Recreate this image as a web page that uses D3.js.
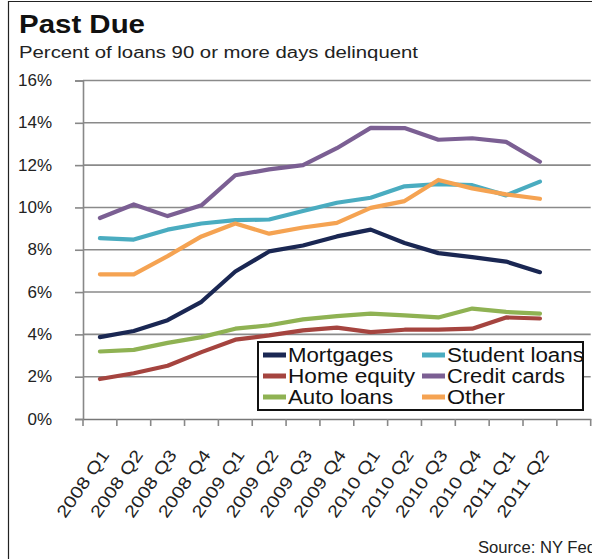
<!DOCTYPE html>
<html><head><meta charset="utf-8">
<script src="https://cdn.jsdelivr.net/npm/d3@7"></script>
<style>body{margin:0;background:#fff}svg{display:block}</style>
</head><body>
<svg id="c" width="592" height="559"></svg>
<script>
const quarters = ["2008 Q1","2008 Q2","2008 Q3","2008 Q4","2009 Q1","2009 Q2","2009 Q3","2009 Q4","2010 Q1","2010 Q2","2010 Q3","2010 Q4","2011 Q1","2011 Q2",""];
const mortgages    = [3.87,4.16,4.67,5.54,6.97,7.92,8.20,8.63,8.95,8.32,7.84,7.65,7.44,6.94];
const homeEquity   = [1.89,2.16,2.52,3.16,3.75,3.95,4.19,4.32,4.11,4.22,4.22,4.27,4.80,4.75];
const autoLoans    = [3.19,3.27,3.60,3.87,4.27,4.43,4.71,4.86,4.98,4.90,4.80,5.22,5.06,4.98];
const studentLoans = [8.55,8.48,8.95,9.24,9.40,9.43,9.83,10.22,10.46,11.00,11.10,11.05,10.57,11.22];
const creditCards  = [9.50,10.14,9.59,10.10,11.52,11.80,12.00,12.80,13.76,13.75,13.20,13.27,13.10,12.16];
const other        = [6.84,6.84,7.70,8.63,9.24,8.76,9.05,9.27,9.98,10.30,11.30,10.90,10.62,10.41];
const yTicks = [0,2,4,6,8,10,12,14,16];
const seriesNames = ["Mortgages","Home equity","Auto loans","Student loans","Credit cards","Other"];
const seriesData = [mortgages,homeEquity,autoLoans,studentLoans,creditCards,other];
const seriesColors = ["#1a2753","#a5443f","#8fb253","#4aacc0","#7b5f93","#f5a352"];

const svg = d3.select("#c");
const FONT = "'Liberation Sans', Arial, sans-serif";

// frame
svg.append("path").attr("d","M8.5,559V1.5H592").attr("fill","none").attr("stroke","#222").attr("stroke-width",1.2);

// titles
svg.append("text").attr("x",19).attr("y",33).attr("font-family",FONT).attr("font-weight","bold")
  .attr("font-size",25).attr("fill","#111").attr("textLength",126).attr("lengthAdjust","spacingAndGlyphs").text("Past Due");
svg.append("text").attr("x",19).attr("y",58).attr("font-family",FONT)
  .attr("font-size",16).attr("fill","#222").attr("textLength",399).attr("lengthAdjust","spacingAndGlyphs")
  .text("Percent of loans 90 or more days delinquent");

const x = d3.scaleBand().domain(quarters).range([83,590.7]).padding(0);
const y = d3.scaleLinear().domain([0,16]).range([419,80.5]);

// gridlines
svg.append("g").selectAll("line").data(yTicks.filter(d=>d>0)).join("line")
  .attr("x1",83).attr("x2",590.7).attr("y1",d=>y(d)).attr("y2",d=>y(d))
  .attr("stroke","#8a8a8a").attr("stroke-width",1.6);

// y axis
const yAxis = svg.append("g").attr("transform","translate(83,0)")
  .call(d3.axisLeft(y).tickValues(yTicks).tickSize(8).tickFormat(d=>d+"%"));
yAxis.select(".domain").attr("stroke","#888").attr("stroke-width",1.6);
yAxis.selectAll(".tick line").attr("stroke","#888").attr("stroke-width",1.6);
yAxis.selectAll(".tick text").attr("font-family",FONT).attr("font-size",17).attr("fill","#222")
  .attr("x",-31).attr("dy","0.3em");

// x axis
const xAxis = svg.append("g").attr("transform","translate(0,419)")
  .call(d3.axisBottom(x).tickSize(7).tickSizeOuter(0));
xAxis.select(".domain").attr("stroke","#777").attr("stroke-width",1.6);
xAxis.selectAll(".tick line").attr("stroke","#888").attr("stroke-width",1.6)
  .attr("transform",`translate(${-x.bandwidth()/2},0)`);
svg.append("line").attr("x1",590.7).attr("x2",590.7).attr("y1",419).attr("y2",426).attr("stroke","#888").attr("stroke-width",1.6);
xAxis.selectAll(".tick text").attr("font-family",FONT).attr("font-size",17).attr("fill","#222")
  .attr("text-anchor","end").attr("y",0).attr("dy",0)
  .attr("textLength",78).attr("lengthAdjust","spacingAndGlyphs")
  .attr("transform","translate(10,36) rotate(-55)");

// lines
const line = d3.line().x((d,i)=>x(quarters[i])+x.bandwidth()/2).y(d=>y(d));
const drawOrder = [4,3,5,0,2,1];
drawOrder.forEach(k=>{
  svg.append("path").datum(seriesData[k]).attr("d",line).attr("fill","none")
    .attr("stroke",seriesColors[k]).attr("stroke-width",4.2).attr("stroke-linejoin","round").attr("stroke-linecap","round");
});

// legend
const lg = svg.append("g");
lg.append("rect").attr("x",258).attr("y",342).attr("width",325).attr("height",68)
  .attr("fill","#fff").attr("stroke","#111").attr("stroke-width",2);
const lw = [105,127,105,137,118,58];
seriesNames.forEach((n,i)=>{
  const col = Math.floor(i/3), row = i%3;
  const lx = col ? 422 : 263, ly = 355 + row*21;
  lg.append("line").attr("x1",lx).attr("x2",lx+23).attr("y1",ly).attr("y2",ly)
    .attr("stroke",seriesColors[i]).attr("stroke-width",5);
  lg.append("text").attr("x",lx+25).attr("y",ly+7).attr("font-family",FONT).attr("font-size",20)
    .attr("fill","#111").attr("textLength",lw[i]).attr("lengthAdjust","spacingAndGlyphs").text(n);
});

// source
svg.append("text").attr("x",478).attr("y",553).attr("font-family",FONT).attr("font-size",16)
  .attr("fill","#222").attr("textLength",118).attr("lengthAdjust","spacingAndGlyphs").text("Source: NY Fed");
</script>
</body></html>
